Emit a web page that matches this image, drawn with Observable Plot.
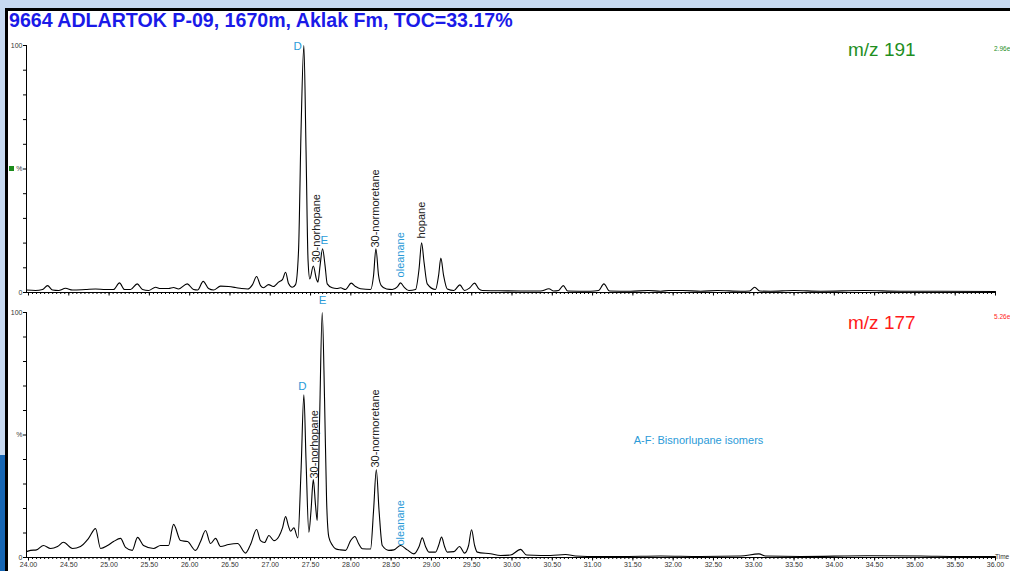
<!DOCTYPE html>
<html><head><meta charset="utf-8">
<script src="https://cdn.jsdelivr.net/npm/d3@7"></script>
<script src="https://cdn.jsdelivr.net/npm/@observablehq/plot@0.6"></script>
<style>
html,body{margin:0;padding:0;width:1010px;height:571px;overflow:hidden;background:#c7d9f1;font-family:"Liberation Sans",Arial,sans-serif;}
#page{position:absolute;left:0;top:0;width:1010px;height:571px;overflow:hidden;}
#strip{position:absolute;left:0;top:455px;width:6px;height:116px;background:#1666b4;}
#box{position:absolute;left:5px;top:8px;width:1010px;height:570px;background:#fff;border-left:3px solid #000;border-top:3px solid #000;}
.abs{position:absolute;white-space:nowrap;line-height:1;}
svg{overflow:visible;}
</style></head><body>
<div id="page">
  <div id="strip"></div>
  <div id="box"></div>
  <div id="top" class="abs" style="left:0;top:30px"></div>
  <div id="bot" class="abs" style="left:0;top:300px"></div>
  <div id="title" class="abs" style="left:9px;top:10.5px;font-weight:bold;font-size:19.6px;color:#1a1ae8"></div>
  <div id="mz1" class="abs" style="left:848px;top:40px;font-size:19px;color:#1f8f1f"></div>
  <div id="mz2" class="abs" style="left:848px;top:313px;font-size:19px;color:#ff1a1a"></div>
  <div id="sc1" class="abs" style="left:994px;top:46px;font-size:6.5px;color:#1f8f1f"></div>
  <div id="sc2" class="abs" style="left:994px;top:314px;font-size:6.5px;color:#ff1a1a"></div>
  <div class="abs" style="left:9px;top:166px;width:5px;height:5px;background:#1b8c1b"></div>
</div>
<script>
// ---- text ----
const titleText = "9664 ADLARTOK P-09, 1670m, Aklak Fm, TOC=33.17%";
const ionLabels = ["m/z 191", "m/z 177"];
const scaleLabels = ["2.96e", "5.26e"];
const axisName = "Time";

// ---- x axis ticks (retention time, min) ----
const majorTicks = [24.0,24.5,25.0,25.5,26.0,26.5,27.0,27.5,28.0,28.5,29.0,29.5,30.0,30.5,31.0,31.5,32.0,32.5,33.0,33.5,34.0,34.5,35.0,35.5,36.0];
const tickLabels = ["24.00","24.50","25.00","25.50","26.00","26.50","27.00","27.50","28.00","28.50","29.00","29.50","30.00","30.50","31.00","31.50","32.00","32.50","33.00","33.50","34.00","34.50","35.00","35.50","36.00"];
const yTicks = [0,10,20,30,40,50,60,70,80,90,100];
const yTickLabels = {0:"0", 50:"%", 100:"100"};

// ---- m/z 191 trace: [time (min), relative abundance (%)] ----
const trace191 = [
[23.975,1.0],[24.087,0.8],[24.174,1.2],[24.236,2.8],[24.298,1.0],[24.372,0.8],[24.459,1.7],[24.546,1.0],
[24.707,1.2],[24.832,1.4],[24.956,1.2],[25.055,1.2],[25.129,3.9],[25.191,1.2],[25.266,1.2],[25.349,3.5],
[25.415,1.2],[25.489,0.8],[25.576,2.1],[25.638,1.6],[25.738,1.6],[25.800,2.0],[25.862,1.4],[25.970,3.5],
[26.048,1.2],[26.098,1.0],[26.168,4.5],[26.234,1.6],[26.296,1.0],[26.383,2.6],[26.482,2.4],[26.569,2.0],
[26.644,1.6],[26.718,1.4],[26.780,3.2],[26.830,6.5],[26.879,2.8],[26.917,1.9],[26.979,3.2],[27.037,2.4],
[27.103,4.2],[27.153,5.3],[27.190,8.2],[27.227,3.6],[27.273,2.1],[27.314,3.2],[27.351,17],[27.382,65.6],
[27.417,100],[27.444,57.5],[27.469,13],[27.491,5.5],[27.534,10.7],[27.574,5.3],[27.591,4.2],[27.618,10.9],
[27.649,17.7],[27.680,10.9],[27.707,3.5],[27.769,1.9],[27.823,1.6],[27.872,1.9],[27.934,1.2],[28.005,3.8],
[28.059,2.4],[28.121,1.5],[28.245,1.2],[28.282,6.9],[28.311,17.7],[28.344,6.9],[28.378,2.8],[28.443,1.4],
[28.514,1.2],[28.580,2.4],[28.617,3.9],[28.661,2.2],[28.720,0.8],[28.803,1.2],[28.847,9.7],[28.878,20.1],
[28.909,12.1],[28.948,3.5],[29.051,1.2],[29.089,6.9],[29.117,13.9],[29.151,6.9],[29.197,1.4],[29.279,0.8],
[29.353,3.1],[29.411,0.8],[29.473,1.8],[29.536,3.8],[29.585,1.6],[29.631,0.8],[29.858,0.7],[30.106,0.6],
[30.355,0.6],[30.458,1.5],[30.516,0.6],[30.578,0.8],[30.636,2.8],[30.690,0.6],[30.975,0.5],[31.075,0.8],
[31.140,3.5],[31.211,0.6],[31.472,0.5],[31.695,0.8],[31.844,0.5],[31.943,0.8],[32.117,0.8],[32.341,0.5],
[32.551,0.8],[32.837,0.5],[32.949,0.6],[33.011,2.1],[33.073,0.6],[33.209,0.5],[33.495,0.8],[33.830,0.5],
[34.364,0.8],[34.823,0.5],[35.319,0.5],[36.000,0.4]
];

// ---- m/z 177 trace: [time (min), relative abundance (%)] ----
const trace177 = [
[23.975,2.4],[24.025,2.9],[24.099,3.1],[24.186,4.9],[24.273,3.7],[24.360,4.5],[24.434,6.2],[24.546,3.7],
[24.645,4.5],[24.745,7.8],[24.832,11.8],[24.894,3.7],[24.981,4.9],[25.055,6.5],[25.142,7.8],[25.204,4.1],
[25.287,2.9],[25.353,8.2],[25.427,4.9],[25.551,3.7],[25.638,4.9],[25.738,4.9],[25.800,13.5],[25.887,6.9],
[25.973,6.5],[26.073,2.9],[26.135,6.5],[26.197,11.0],[26.259,5.7],[26.321,7.8],[26.383,4.5],[26.482,5.3],
[26.594,5.7],[26.693,1.8],[26.755,5.3],[26.830,11.4],[26.879,6.9],[26.929,6.1],[26.983,9.0],[27.045,6.9],
[27.107,8.6],[27.153,12.2],[27.190,16.7],[27.227,12.7],[27.252,10.7],[27.293,12.1],[27.342,8.0],[27.382,35.5],
[27.417,66.4],[27.444,39.6],[27.479,10.3],[27.506,19.2],[27.534,31.8],[27.562,21.2],[27.583,15.1],[27.612,55.9],
[27.645,100],[27.674,64.1],[27.699,23.3],[27.727,8.3],[27.773,4.9],[27.810,3.6],[27.872,3.1],[27.934,2.9],
[27.997,6.9],[28.050,8.6],[28.096,5.7],[28.142,3.6],[28.245,3.5],[28.282,19.2],[28.316,35.8],[28.350,19.2],
[28.390,4.9],[28.472,2.9],[28.534,3.1],[28.617,4.9],[28.700,3.1],[28.782,1.5],[28.847,4.5],[28.886,8.0],
[28.927,4.5],[28.968,2.2],[29.051,2.2],[29.089,4.9],[29.126,8.3],[29.163,4.5],[29.197,2.2],[29.279,2.4],
[29.349,4.5],[29.411,1.8],[29.461,4.9],[29.498,11.3],[29.536,4.9],[29.569,2.2],[29.734,1.5],[29.858,0.8],
[29.982,1.0],[30.106,3.3],[30.181,1.0],[30.355,0.8],[30.479,0.8],[30.665,1.2],[30.789,0.6],[30.934,0.4],
[31.348,0.4],[31.844,0.6],[32.341,0.4],[32.837,0.6],[33.064,1.5],[33.147,0.6],[33.582,0.4],[34.410,0.7],
[35.071,0.6],[35.568,0.4],[36.000,0.4]
];

// ---- peak annotations: [label, time (min), abundance (%)] ----
const notes191 = [
["D",27.34,99.6],["30-norhopane",27.568,12.1],["E",27.67,21],
["30-normoretane",28.31,18.2],["oleanane",28.62,6.1],["hopane",28.88,21.9]
];
const notes177 = [
["E",27.65,104.9],["D",27.40,69.8],["30-norhopane",27.55,32.2],
["30-normoretane",28.31,36.7],["oleanane",28.62,4.9],["A-F: Bisnorlupane isomers",31.51,47.8]
];
const letterLabels = ["D","E"];
const blueLabels = ["D","E","oleanane","A-F: Bisnorlupane isomers"];
const flatLabels = ["A-F: Bisnorlupane isomers"];

const BLUE = "#2b9bd8", INK = "#222";
const minorTicks = d3.range(0, 241).map(i => 24 + i * 0.05);
const fmtTick = d => { const i = majorTicks.findIndex(m => Math.abs(m - d) < 1e-6); return i >= 0 ? tickLabels[i] : ""; };

function panel(trace, notes, opts) {
  const data = trace.map(([t, v]) => ({t, v}));
  const ann = notes.map(([name, t, v]) => ({name, t, v}));
  const letters = ann.filter(d => letterLabels.includes(d.name));
  const flat = ann.filter(d => flatLabels.includes(d.name));
  const rotated = ann.filter(d => !letterLabels.includes(d.name) && !flatLabels.includes(d.name));
  const col = d => blueLabels.includes(d.name) ? BLUE : INK;
  return Plot.plot({
    width: 1010, height: opts.height,
    marginLeft: 26, marginRight: 15, marginTop: opts.marginTop, marginBottom: opts.marginBottom,
    x: {domain: [23.975, 36], axis: null},
    y: {domain: [0, 100], axis: null},
    style: {background: "transparent", overflow: "visible", fontFamily: "Liberation Sans, Arial, sans-serif", color: "#222"},
    marks: [
      Plot.axisY(yTicks, {anchor: "left", tickSize: 3, tickPadding: 1, fontSize: 7, label: null, stroke: "#000",
        tickFormat: d => yTickLabels[d] ?? "", fill: "#333"}),
      Plot.axisX(minorTicks, {anchor: "bottom", tickSize: 2, tickFormat: () => "", label: null, stroke: "#000"}),
      Plot.axisX(majorTicks, {anchor: "bottom", tickSize: 3.5, tickPadding: 1, fontSize: 7, label: null, stroke: "#000",
        tickFormat: opts.labels ? fmtTick : () => "", fill: "#333"}),
      Plot.ruleY([0], {stroke: "#000", strokeWidth: 1.2}),
      Plot.ruleX([23.975], {y1: 0, y2: 100, stroke: "#000", strokeWidth: 1}),
      Plot.line(data, {x: "t", y: "v", curve: "monotone-x", stroke: "#000", strokeWidth: 1.1}),
      Plot.text(letters, {x: "t", y: "v", text: "name", fill: BLUE, fontSize: 11.5, textAnchor: "middle"}),
      Plot.text(rotated, {x: "t", y: "v", text: "name", fill: col, fontSize: 11, rotate: -90, textAnchor: "start"}),
      Plot.text(flat, {x: "t", y: "v", text: "name", fill: BLUE, fontSize: 11, textAnchor: "start"})
    ]
  });
}

document.getElementById("title").textContent = titleText;
document.getElementById("mz1").textContent = ionLabels[0];
document.getElementById("mz2").textContent = ionLabels[1];
document.getElementById("sc1").textContent = scaleLabels[0];
document.getElementById("sc2").textContent = scaleLabels[1];

document.getElementById("top").append(panel(trace191, notes191, {height: 270, marginTop: 15, marginBottom: 8, labels: false}));
document.getElementById("bot").append(panel(trace177, notes177, {height: 271, marginTop: 12, marginBottom: 14, labels: true}));

const tim = document.createElement("div");
tim.className = "abs";
tim.style.cssText = "left:995px;top:554px;font-size:6.5px;color:#333";
tim.textContent = axisName;
document.getElementById("page").append(tim);
</script>
</body></html>
